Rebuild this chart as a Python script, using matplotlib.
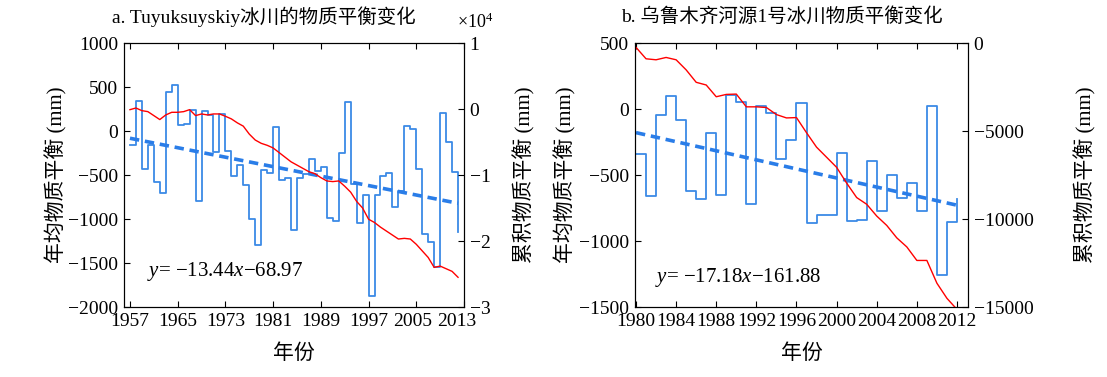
import matplotlib.pyplot as plt
import matplotlib.transforms as mtransforms
import numpy as np

plt.rcParams['font.family'] = ['Liberation Serif', 'Noto Sans CJK SC']
plt.rcParams['mathtext.fontset'] = 'custom'
plt.rcParams['mathtext.rm'] = 'Liberation Serif'
plt.rcParams['mathtext.it'] = 'Liberation Serif:italic'

# a. Tuyuksuyskiy glacier, 1957-2012
years_a = list(range(1957, 2013))
annual_a = [-159, 337, -432, -159, -576, -704, 439, 526, 68, 80,
            242, -795, 231, 182, -242, 193, -223, -508, -386, -613,
            -1000, -1291, -439, -477, 49, -560, -538, -1121, -538, -489,
            -318, -450, -413, -992, -1019, -250, 333, -600, -1049, -723,
            -1871, -727, -515, -481, -867, -678, 53, 23, -432, -1170,
            -1257, -1549, 204, -129, -470, -1151]
# cumulative balance, x10^4 mm
cum_a = [-0.01, 0.015, -0.025, -0.04, -0.10, -0.16, -0.09, -0.05, -0.05, -0.04,
         -0.01, -0.10, -0.075, -0.09, -0.075, -0.075, -0.11, -0.15, -0.21, -0.26,
         -0.38, -0.47, -0.52, -0.55, -0.59, -0.66, -0.73, -0.80, -0.85, -0.90,
         -0.95, -0.98, -1.04, -1.09, -1.10, -1.09, -1.17, -1.26, -1.40, -1.50,
         -1.67, -1.72, -1.79, -1.85, -1.91, -1.97, -1.96, -1.97, -2.05, -2.15,
         -2.25, -2.40, -2.38, -2.42, -2.46, -2.55]
slope_a, icpt_a = -13.44, -68.97

# b. Urumqi Glacier No.1, 1980-2012
years_b = list(range(1980, 2013))
annual_b = [-342, -660, -46, 101, -81, -624, -680, -180, -654, 109,
            56, -718, 25, -30, -380, -233, 46, -862, -804, -804,
            -335, -850, -842, -393, -769, -498, -672, -558, -769, 25,
            -1256, -858, -683]
cum_b = [-248, -897, -954, -821, -954, -1527, -2233, -2386, -3054, -2921,
         -2902, -3627, -3627, -3665, -4066, -4257, -4238, -5097, -5918, -6490,
         -7063, -7960, -8781, -9163, -9833, -10366, -11072, -11587, -12355, -12355,
         -13648, -14507, -15136]
slope_b, icpt_b = -17.18, -161.88

step_color = '#3b8ae6'
trend_color = '#2a7de8'
fs = 14
M = '\u2212'

fig = plt.figure(figsize=(11.07, 3.77), dpi=100)


def panel(rect, years, annual, cum, slope, icpt, xlim, xticks, ylim, yticks,
          ylim2, yticks2, ylabels2, eq, eqpos, title, title_x, ylab_l, ylab_r):
    ax = fig.add_axes(rect)
    ax.step(years, annual, where='post', color=step_color, lw=1.3)
    idx = np.arange(1, len(years) + 1)
    ax.plot(years, slope * idx + icpt, color=trend_color, lw=2.6, dashes=(2.6, 1.6))
    ax.set_xlim(*xlim)
    ax.set_ylim(*ylim)
    ax.set_xticks(xticks)
    ax.set_yticks(yticks)
    ax.tick_params(direction='in', top=True, length=4, labelsize=fs, pad=4)
    ax.set_xlabel('年份', fontsize=15)
    ax.xaxis.set_label_coords(0.5, -0.14)
    ax.set_ylabel(ylab_l, fontsize=15)
    ax.yaxis.set_label_coords(ylab_r[1], 0.5)
    ax.text(eqpos[0], eqpos[1], eq, transform=ax.transAxes, fontsize=15, va='center')
    ax.text(title_x, 1.1, title, transform=ax.transAxes, fontsize=14,
            ha='center', va='center')

    ax2 = ax.twinx()
    ax2.plot(years, cum, color='red', lw=1.0)
    ax2.set_ylim(*ylim2)
    ax2.set_yticks(yticks2)
    ax2.set_yticklabels(ylabels2)
    ax2.tick_params(direction='in', length=4, labelsize=fs, pad=4)
    ax2.set_ylabel(ylab_r[0], fontsize=15)
    ax2.yaxis.set_label_coords(ylab_r[2], 0.5)
    return ax, ax2


axa, axa2 = panel([124 / 1107, 70 / 377, 340 / 1107, 264 / 377],
                  years_a, annual_a, cum_a, slope_a, icpt_a,
                  (1956, 2013), list(range(1957, 2014, 8)),
                  (-2000, 1000), list(range(-2000, 1001, 500)),
                  (-3, 1), [-3, -2, -1, 0, 1], [M + '3', M + '2', M + '1', '0', '1'],
                  '$y$= ' + M + '13.44$x$' + M + '68.97',
                  (0.068, 0.133),
                  'a. Tuyuksuyskiy冰川的物质平衡变化', 0.41,
                  '年均物质平衡 (mm)', ('累积物质平衡 (mm)', -0.165, 1.145))
fig.text(457 / 1107, 1 - 22 / 377, r'$\times$10$^4$', fontsize=13, va='center')

# pull the last two year labels in a little, as in the reference
labels = axa.get_xticklabels()
for lab, dx in zip(labels[-2:], (-4, -7)):
    lab.set_transform(lab.get_transform() +
                      mtransforms.ScaledTranslation(dx / 100, 0, fig.dpi_scale_trans))

axb, axb2 = panel([635 / 1107, 70 / 377, 333 / 1107, 264 / 377],
                  years_b, annual_b, cum_b, slope_b, icpt_b,
                  (1979.9, 2013.1), list(range(1980, 2013, 4)),
                  (-1500, 500), list(range(-1500, 501, 500)),
                  (-15000, 0), [-15000, -10000, -5000, 0],
                  [M + '15000', M + '10000', M + '5000', '0'],
                  '$y$= ' + M + '17.18$x$' + M + '161.88',
                  (0.06, 0.11),
                  'b. 乌鲁木齐河源1号冰川物质平衡变化', 0.44,
                  '年均物质平衡 (mm)', ('累积物质平衡 (mm)', -0.175, 1.32))

plt.savefig('out.png', dpi=100)
